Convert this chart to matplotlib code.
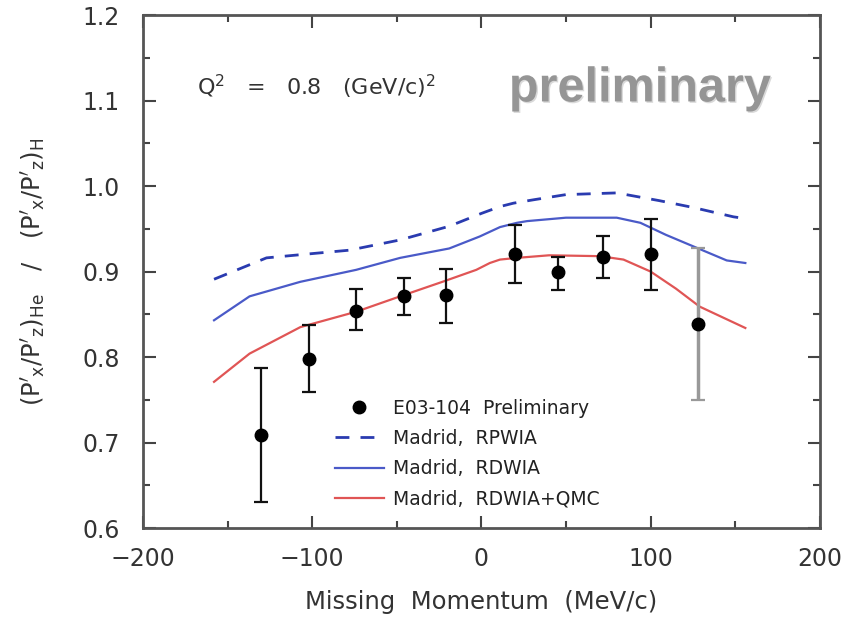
import matplotlib

matplotlib.use("Agg")
import matplotlib.pyplot as plt
from matplotlib.ticker import MultipleLocator
import matplotlib.patheffects as pe

# E03-104 preliminary data points
pm_data = [-130, -102, -74, -46, -21, 20, 45, 72, 100, 128]
ratio_data = [0.709, 0.798, 0.854, 0.871, 0.872, 0.920, 0.899, 0.917, 0.920, 0.839]
err_hi = [0.787, 0.837, 0.880, 0.892, 0.903, 0.955, 0.917, 0.942, 0.962, 0.927]
err_lo = [0.630, 0.759, 0.832, 0.849, 0.840, 0.887, 0.878, 0.892, 0.878, 0.750]

# Madrid calculations
pm_rpwia = [-158, -127, -100, -78, -48, -19, 0, 11, 19, 31, 50, 80, 105, 125, 149, 156]
rpwia = [0.891, 0.916, 0.921, 0.925, 0.937, 0.953, 0.968, 0.976, 0.980, 0.984, 0.990, 0.992, 0.983, 0.975, 0.964, 0.962]

pm_rdwia = [-158, -137, -107, -74, -48, -19, -1, 11, 21, 27, 50, 80, 94, 109, 127, 145, 156]
rdwia = [0.843, 0.871, 0.888, 0.902, 0.916, 0.927, 0.941, 0.952, 0.957, 0.959, 0.963, 0.963, 0.957, 0.943, 0.928, 0.913, 0.910]

pm_qmc = [-158, -137, -107, -74, -48, -23, -3, 5, 11, 21, 40, 70, 84, 100, 115, 129, 156]
rdwia_qmc = [0.771, 0.804, 0.835, 0.853, 0.871, 0.888, 0.902, 0.910, 0.914, 0.916, 0.919, 0.918, 0.914, 0.900, 0.880, 0.859, 0.834]

TXT = "#333333"


def main():
    plt.rcParams["font.family"] = ["DejaVu Sans"]
    fig = plt.figure(figsize=(8.46, 6.18), dpi=100)
    ax = fig.add_axes([0.169, 0.1456, 0.800, 0.830])

    ax.plot(pm_rpwia, rpwia, color="#2a3bb0", lw=2.0, ls=(0, (5, 4)), label="Madrid,  RPWIA")
    ax.plot(pm_rdwia, rdwia, color="#4a5ac8", lw=1.6, label="Madrid,  RDWIA")
    ax.plot(pm_qmc, rdwia_qmc, color="#e05555", lw=1.6, label="Madrid,  RDWIA+QMC")

    lo = [r - l for r, l in zip(ratio_data, err_lo)]
    hi = [h - r for r, h in zip(ratio_data, err_hi)]
    last = len(pm_data) - 1
    for i in range(len(pm_data)):
        ax.errorbar([pm_data[i]], [ratio_data[i]], yerr=[[lo[i]], [hi[i]]], fmt="none",
                    ecolor="#999999" if i == last else "#111111",
                    elinewidth=2.5 if i == last else 1.6, capsize=5, capthick=1.6)
    ax.plot(pm_data, ratio_data, "o", color="black", ms=9, label="E03-104  Preliminary")

    ax.set_xlim(-200, 200)
    ax.set_ylim(0.6, 1.2)
    ax.xaxis.set_major_locator(MultipleLocator(100))
    ax.xaxis.set_minor_locator(MultipleLocator(50))
    ax.yaxis.set_major_locator(MultipleLocator(0.1))
    ax.yaxis.set_minor_locator(MultipleLocator(0.05))
    ax.set_yticks(ax.get_yticks())
    ax.set_yticklabels([f"{v:.1f}" for v in ax.get_yticks()])
    ax.set_ylim(0.6, 1.2)
    ax.tick_params(which="both", direction="in", top=True, right=True, colors="#444444",
                   labelcolor=TXT, labelsize=17, width=1.5)
    ax.tick_params(which="major", length=9)
    ax.tick_params(which="minor", length=5)
    ax.tick_params(axis="x", pad=14)
    ax.tick_params(axis="y", pad=16.5)
    for sp in ax.spines.values():
        sp.set_linewidth(2)
        sp.set_color("#555555")

    ax.set_xlabel("Missing  Momentum  (MeV/c)", fontsize=17.5, color=TXT)
    ax.xaxis.set_label_coords(0.5, -0.121)
    ax.set_ylabel(r"$(\mathrm{P'_x/P'_z})_{\mathrm{He}}$   /   $(\mathrm{P'_x/P'_z})_{\mathrm{H}}$",
                  fontsize=17.5, color=TXT)
    ax.yaxis.set_label_coords(-0.14, 0.5)

    ax.text(0.08, 0.86, r"Q$^2$   =   0.8   (GeV/c)$^2$", transform=ax.transAxes,
            fontsize=16, color=TXT, va="center")
    ax.text(0.734, 0.856, "preliminary", transform=ax.transAxes, fontsize=35,
            family="Liberation Sans", weight="bold", color="#959595", ha="center", va="center",
            path_effects=[pe.withSimplePatchShadow(offset=(1, -1), shadow_rgbFace="#d0d0d0", alpha=0.8)])

    h, l = ax.get_legend_handles_labels()
    order = [3, 0, 1, 2]
    leg = ax.legend([h[i] for i in order], [l[i] for i in order], loc="upper left",
                    bbox_to_anchor=(0.2725, 0.267), borderaxespad=0, frameon=False,
                    fontsize=13.5, handlelength=2.6, labelspacing=0.6, handletextpad=0.5)
    for t in leg.get_texts():
        t.set_color("#222222")

    fig.savefig("out.png", dpi=100)


if __name__ == "__main__":
    main()
